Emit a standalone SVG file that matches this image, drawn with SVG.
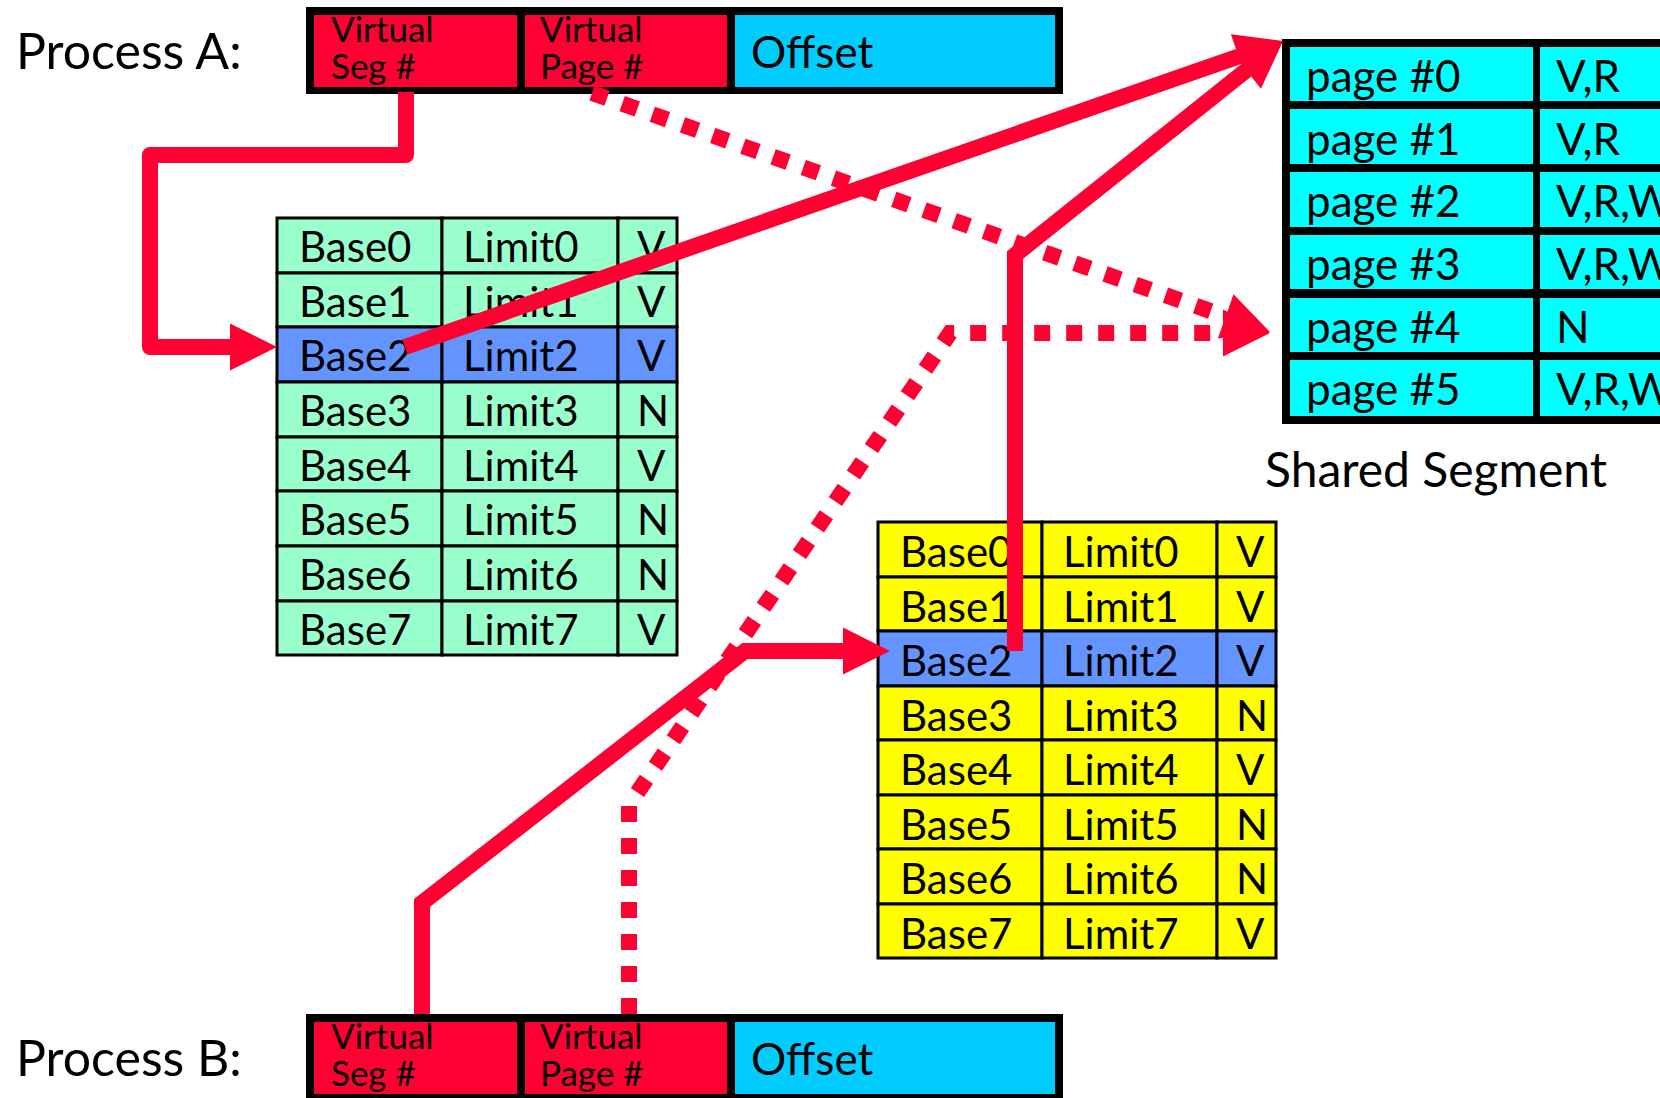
<svg xmlns="http://www.w3.org/2000/svg" width="1660" height="1098" viewBox="0 0 1660 1098">
<style>
text{font-family:Lato,"Liberation Sans",sans-serif;fill:#000}
.lbl{font-size:50px}
.fld{font-size:35px}
.off{font-size:44px}
.cell{font-size:42px}
.pg{font-size:44px}
.cap{font-size:48px}
.red{fill:#FF0033}
.ofs{fill:#00CCFF}
.grn{fill:#99FFCC;stroke:#000;stroke-width:3}
.yel{fill:#FFFF00;stroke:#000;stroke-width:3}
.blu{fill:#6394FF;stroke:#000;stroke-width:3}
.cy{fill:#00FFFF}
.ln{fill:none;stroke:#FF0033;stroke-width:16}
.dot{stroke-dasharray:16 16}
</style>
<defs>
<marker id="ah" markerUnits="userSpaceOnUse" markerWidth="47" markerHeight="47" refX="0" refY="23.5" orient="auto" overflow="visible">
<path d="M0,0 L47,23.5 L0,47 Z" fill="#FF0033"/>
</marker>
</defs>
<rect width="1660" height="1098" fill="#fff"/>

<g id="process-a">
<text class="lbl" x="16" y="69">Process A:</text>
<rect x="306" y="7" width="757" height="87" fill="#000"/>
<rect class="red" x="314" y="15" width="203" height="72"/>
<rect class="red" x="525" y="15" width="202" height="72"/>
<rect class="ofs" x="735" y="15" width="320" height="72"/>
<text class="fld" x="331" y="42">Virtual</text>
<text class="fld" x="331" y="79">Seg #</text>
<text class="fld" x="540" y="42">Virtual</text>
<text class="fld" x="540" y="79">Page #</text>
<text class="off" x="751" y="68">Offset</text>
</g>

<g id="process-b">
<text class="lbl" x="16" y="1076">Process B:</text>
<rect x="306" y="1014" width="757" height="87" fill="#000"/>
<rect class="red" x="314" y="1022" width="203" height="72"/>
<rect class="red" x="525" y="1022" width="202" height="72"/>
<rect class="ofs" x="735" y="1022" width="320" height="72"/>
<text class="fld" x="331" y="1049">Virtual</text>
<text class="fld" x="331" y="1086">Seg #</text>
<text class="fld" x="540" y="1049">Virtual</text>
<text class="fld" x="540" y="1086">Page #</text>
<text class="off" x="751" y="1075">Offset</text>
</g>

<g id="segtable-a">
<rect class="grn" x="277" y="218" width="165" height="55"/><rect class="grn" x="442" y="218" width="176" height="55"/><rect class="grn" x="618" y="218" width="59" height="55"/>
<rect class="grn" x="277" y="273" width="165" height="54"/><rect class="grn" x="442" y="273" width="176" height="54"/><rect class="grn" x="618" y="273" width="59" height="54"/>
<rect class="blu" x="277" y="327" width="165" height="55"/><rect class="blu" x="442" y="327" width="176" height="55"/><rect class="blu" x="618" y="327" width="59" height="55"/>
<rect class="grn" x="277" y="382" width="165" height="55"/><rect class="grn" x="442" y="382" width="176" height="55"/><rect class="grn" x="618" y="382" width="59" height="55"/>
<rect class="grn" x="277" y="437" width="165" height="54"/><rect class="grn" x="442" y="437" width="176" height="54"/><rect class="grn" x="618" y="437" width="59" height="54"/>
<rect class="grn" x="277" y="491" width="165" height="55"/><rect class="grn" x="442" y="491" width="176" height="55"/><rect class="grn" x="618" y="491" width="59" height="55"/>
<rect class="grn" x="277" y="546" width="165" height="55"/><rect class="grn" x="442" y="546" width="176" height="55"/><rect class="grn" x="618" y="546" width="59" height="55"/>
<rect class="grn" x="277" y="601" width="165" height="54"/><rect class="grn" x="442" y="601" width="176" height="54"/><rect class="grn" x="618" y="601" width="59" height="54"/>
<text class="cell" x="299" y="262">Base0</text><text class="cell" x="463" y="262">Limit0</text><text class="cell" x="637" y="262">V</text>
<text class="cell" x="299" y="317">Base1</text><text class="cell" x="463" y="317">Limit1</text><text class="cell" x="637" y="317">V</text>
<text class="cell" x="299" y="371">Base2</text><text class="cell" x="463" y="371">Limit2</text><text class="cell" x="637" y="371">V</text>
<text class="cell" x="299" y="426">Base3</text><text class="cell" x="463" y="426">Limit3</text><text class="cell" x="637" y="426">N</text>
<text class="cell" x="299" y="481">Base4</text><text class="cell" x="463" y="481">Limit4</text><text class="cell" x="637" y="481">V</text>
<text class="cell" x="299" y="535">Base5</text><text class="cell" x="463" y="535">Limit5</text><text class="cell" x="637" y="535">N</text>
<text class="cell" x="299" y="590">Base6</text><text class="cell" x="463" y="590">Limit6</text><text class="cell" x="637" y="590">N</text>
<text class="cell" x="299" y="645">Base7</text><text class="cell" x="463" y="645">Limit7</text><text class="cell" x="637" y="645">V</text>
</g>

<g id="segtable-b">
<rect class="yel" x="878" y="522" width="164" height="55"/><rect class="yel" x="1042" y="522" width="175" height="55"/><rect class="yel" x="1217" y="522" width="59" height="55"/>
<rect class="yel" x="878" y="577" width="164" height="54"/><rect class="yel" x="1042" y="577" width="175" height="54"/><rect class="yel" x="1217" y="577" width="59" height="54"/>
<rect class="blu" x="878" y="631" width="164" height="55"/><rect class="blu" x="1042" y="631" width="175" height="55"/><rect class="blu" x="1217" y="631" width="59" height="55"/>
<rect class="yel" x="878" y="686" width="164" height="54"/><rect class="yel" x="1042" y="686" width="175" height="54"/><rect class="yel" x="1217" y="686" width="59" height="54"/>
<rect class="yel" x="878" y="740" width="164" height="55"/><rect class="yel" x="1042" y="740" width="175" height="55"/><rect class="yel" x="1217" y="740" width="59" height="55"/>
<rect class="yel" x="878" y="795" width="164" height="54"/><rect class="yel" x="1042" y="795" width="175" height="54"/><rect class="yel" x="1217" y="795" width="59" height="54"/>
<rect class="yel" x="878" y="849" width="164" height="55"/><rect class="yel" x="1042" y="849" width="175" height="55"/><rect class="yel" x="1217" y="849" width="59" height="55"/>
<rect class="yel" x="878" y="904" width="164" height="54"/><rect class="yel" x="1042" y="904" width="175" height="54"/><rect class="yel" x="1217" y="904" width="59" height="54"/>
<text class="cell" x="900" y="567">Base0</text><text class="cell" x="1063" y="567">Limit0</text><text class="cell" x="1236" y="567">V</text>
<text class="cell" x="900" y="622">Base1</text><text class="cell" x="1063" y="622">Limit1</text><text class="cell" x="1236" y="622">V</text>
<text class="cell" x="900" y="676">Base2</text><text class="cell" x="1063" y="676">Limit2</text><text class="cell" x="1236" y="676">V</text>
<text class="cell" x="900" y="731">Base3</text><text class="cell" x="1063" y="731">Limit3</text><text class="cell" x="1236" y="731">N</text>
<text class="cell" x="900" y="785">Base4</text><text class="cell" x="1063" y="785">Limit4</text><text class="cell" x="1236" y="785">V</text>
<text class="cell" x="900" y="840">Base5</text><text class="cell" x="1063" y="840">Limit5</text><text class="cell" x="1236" y="840">N</text>
<text class="cell" x="900" y="894">Base6</text><text class="cell" x="1063" y="894">Limit6</text><text class="cell" x="1236" y="894">N</text>
<text class="cell" x="900" y="949">Base7</text><text class="cell" x="1063" y="949">Limit7</text><text class="cell" x="1236" y="949">V</text>
</g>

<g id="shared-segment">
<rect x="1282" y="39" width="420" height="385" fill="#000"/>
<rect class="cy" x="1290" y="47" width="243" height="54"/><rect class="cy" x="1540" y="47" width="162" height="54"/>
<rect class="cy" x="1290" y="109" width="243" height="55"/><rect class="cy" x="1540" y="109" width="162" height="55"/>
<rect class="cy" x="1290" y="172" width="243" height="55"/><rect class="cy" x="1540" y="172" width="162" height="55"/>
<rect class="cy" x="1290" y="235" width="243" height="54"/><rect class="cy" x="1540" y="235" width="162" height="54"/>
<rect class="cy" x="1290" y="298" width="243" height="54"/><rect class="cy" x="1540" y="298" width="162" height="54"/>
<rect class="cy" x="1290" y="360" width="243" height="56"/><rect class="cy" x="1540" y="360" width="162" height="56"/>
<text class="pg" x="1306" y="92">page #0</text><text class="pg" x="1556" y="92">V,R</text>
<text class="pg" x="1306" y="155">page #1</text><text class="pg" x="1556" y="155">V,R</text>
<text class="pg" x="1306" y="217">page #2</text><text class="pg" x="1556" y="217">V,R,W</text>
<text class="pg" x="1306" y="280">page #3</text><text class="pg" x="1556" y="280">V,R,W</text>
<text class="pg" x="1306" y="343">page #4</text><text class="pg" x="1556" y="343">N</text>
<text class="pg" x="1306" y="405">page #5</text><text class="pg" x="1556" y="405">V,R,W</text>
<text class="cap" x="1265" y="487">Shared Segment</text>
</g>

<g id="connectors">
<path class="ln" d="M406,92 L406,155 L150,155 L150,347 L230,347" stroke-linejoin="round" marker-end="url(#ah)"/>
<path class="ln" d="M405,347 L1238.6,56.5" marker-end="url(#ah)"/>
<path class="ln" d="M1015,651 L1015,255 L1246.3,70.3" marker-end="url(#ah)"/>
<path class="ln dot" d="M592,93 L1225.7,316.4" marker-end="url(#ah)"/>
<path class="ln dot" d="M629,1014 L629,805 L950,333 L1223,333" marker-end="url(#ah)"/>
<path class="ln" d="M422,1014 L422,903 L745,651 L843,651" marker-end="url(#ah)"/>
</g>
</svg>
